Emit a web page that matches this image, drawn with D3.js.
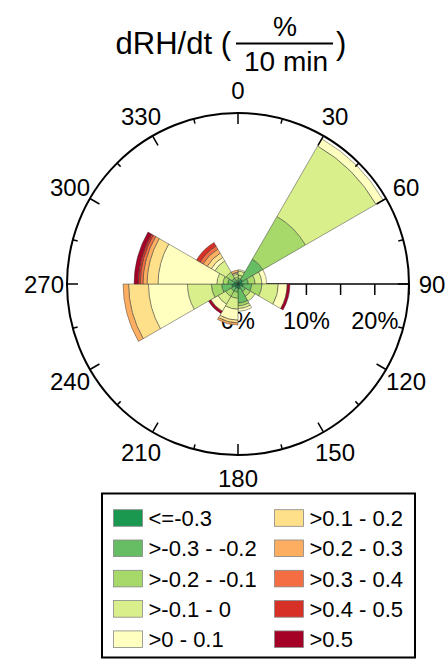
<!DOCTYPE html>
<html>
<head>
<meta charset="utf-8">
<script src="https://cdn.jsdelivr.net/npm/d3@7"></script>
<style>
  html, body { margin: 0; padding: 0; background: #fff; }
  svg { display: block; font-family: "Liberation Sans", Arial, sans-serif; }
</style>
</head>
<body>
<svg id="chart" width="448" height="659"></svg>
<script>
// Direction sectors (centre of each 30° bin, degrees clockwise from north)
const directions = [15, 45, 75, 105, 135, 165, 195, 225, 255, 285, 315, 345];

// Class labels for dRH/dt and their colours
const classLabels = ["<=-0.3", ">-0.3 - -0.2", ">-0.2 - -0.1", ">-0.1 - 0", ">0 - 0.1",
                     ">0.1 - 0.2", ">0.2 - 0.3", ">0.3 - 0.4", ">0.4 - 0.5", ">0.5"];
const classColors = ["#1a9850", "#66bd63", "#a6d96a", "#d9ef8b", "#ffffbf",
                     "#fee08b", "#fdae61", "#f46d43", "#d73027", "#a50026"];

// Frequency (%) of each class per direction sector, in the order of `directions`
const cls1  = [0.4, 0.8, 0.6, 0.8, 0.5, 0.7, 0.6, 0.6, 0.9, 0.6, 0.4, 0.3];
const cls2  = [0.4, 3.4, 0.9, 1.2, 0.8, 2.1, 0.6, 0.6, 1.5, 0.9, 0.6, 0.3];
const cls3  = [0.5, 7.2, 1.0, 1.5, 0.8, 0.4, 0.9, 0.9, 1.5, 0.7, 1.0, 0.4];
const cls4  = [0.6, 11.9, 1.0, 2.4, 0.8, 0.4, 1.6, 1.3, 3.5, 0.9, 1.9, 0.4];
const cls5  = [0.2, 1.2, 0.7, 1.3, 0.0, 0.4, 1.6, 1.2, 5.7, 8.6, 0.6, 0.2];
const cls6  = [0, 0, 0, 0, 0, 0, 0.4, 0, 2.9, 1.6, 0.7, 0.1];
const cls7  = [0, 0, 0, 0, 0, 0, 0.3, 0, 0.8, 0.6, 0.7, 0.3];
const cls8  = [0, 0, 0, 0, 0, 0, 0, 0, 0, 0.4, 0.5, 0];
const cls9  = [0, 0, 0, 0, 0, 0, 0, 0, 0, 0.3, 0.6, 0];
const cls10 = [0, 0, 0, 0.4, 0, 0, 0, 0.4, 0, 0.6, 0, 0];

// Axis ticks
const dirLabels = [0, 30, 60, 90, 120, 150, 180, 210, 240, 270, 300, 330];
const radialTicks = [0, 5, 10, 15, 20, 25];
const radialLabels = [0, 10, 20];
const radialMax = 25;

const series = [cls1, cls2, cls3, cls4, cls5, cls6, cls7, cls8, cls9, cls10];

const svg = d3.select("#chart");
const cx = 238, cy = 284, R = 171;
const toRad = d => d * Math.PI / 180;

const r = d3.scaleLinear().domain([0, radialMax]).range([0, R]);

// ---- Title: dRH/dt (% / 10 min)
const title = svg.append("g").attr("fill", "#000");
title.append("text").attr("x", 231).attr("y", 54).attr("text-anchor", "end")
  .attr("font-size", 31).text("dRH/dt (");
title.append("text").attr("x", 285).attr("y", 36).attr("text-anchor", "middle")
  .attr("font-size", 27).text("%");
title.append("line").attr("x1", 236).attr("x2", 333).attr("y1", 43.5).attr("y2", 43.5)
  .attr("stroke", "#000").attr("stroke-width", 2);
title.append("text").attr("x", 286).attr("y", 71).attr("text-anchor", "middle")
  .attr("font-size", 28).text("10 min");
title.append("text").attr("x", 336).attr("y", 54).attr("text-anchor", "start")
  .attr("font-size", 31).text(")");

const plot = svg.append("g").attr("transform", `translate(${cx},${cy})`);

// ---- Radial axis along 90°: line, ticks and percentage labels
plot.append("line").attr("x1", 0).attr("y1", 0).attr("x2", R).attr("y2", 0)
  .attr("stroke", "#000").attr("stroke-width", 1.5);
plot.selectAll(".rtick").data(radialTicks).join("line")
  .attr("x1", d => r(d)).attr("x2", d => r(d)).attr("y1", 0).attr("y2", 11)
  .attr("stroke", "#000").attr("stroke-width", 1.5);
plot.selectAll(".rlab").data(radialLabels).join("text")
  .attr("x", d => r(d)).attr("y", 45)
  .attr("text-anchor", "middle").attr("font-size", 23.5)
  .text(d => d + "%");

// ---- Stacked sectors
const arc = d3.arc();
const sectors = plot.append("g");
directions.forEach((dir, i) => {
  let inner = 0;
  series.forEach((vals, k) => {
    const v = vals[i];
    if (v <= 0) return;
    const outer = inner + v;
    sectors.append("path")
      .attr("d", arc({
        innerRadius: r(inner), outerRadius: r(outer),
        startAngle: toRad(dir - 15), endAngle: toRad(dir + 15)
      }))
      .attr("fill", classColors[k])
      .attr("stroke", "#333").attr("stroke-width", 0.7).attr("stroke-opacity", 0.65);
    inner = outer;
  });
});

// ---- Outer circle with direction ticks
plot.append("circle").attr("r", R).attr("fill", "none")
  .attr("stroke", "#000").attr("stroke-width", 2);
const tickAngles = d3.range(0, 360, 15);
plot.selectAll(".dtick").data(tickAngles).join("line")
  .attr("x1", d => Math.sin(toRad(d)) * R)
  .attr("y1", d => -Math.cos(toRad(d)) * R)
  .attr("x2", d => Math.sin(toRad(d)) * (R - (d % 30 === 0 ? 11 : 5)))
  .attr("y2", d => -Math.cos(toRad(d)) * (R - (d % 30 === 0 ? 11 : 5)))
  .attr("stroke", "#000").attr("stroke-width", 1.5);
plot.selectAll(".dlab").data(dirLabels).join("text")
  .attr("x", d => Math.sin(toRad(d)) * 194)
  .attr("y", d => -Math.cos(toRad(d)) * 194)
  .attr("dy", "0.36em")
  .attr("text-anchor", "middle").attr("font-size", 24)
  .text(d => d);

// ---- Legend
const legend = svg.append("g");
legend.append("rect").attr("x", 102).attr("y", 493.5).attr("width", 313).attr("height", 164)
  .attr("fill", "#fff").attr("stroke", "#000").attr("stroke-width", 2);
const colX = [113.5, 274.5];
classLabels.forEach((lab, k) => {
  const col = Math.floor(k / 5), row = k % 5;
  const y = 518 + row * 30.3;
  legend.append("rect").attr("x", colX[col]).attr("y", y - 8.3)
    .attr("width", 29).attr("height", 16.6)
    .attr("fill", classColors[k]).attr("stroke", "#888").attr("stroke-width", 0.8);
  legend.append("text").attr("x", colX[col] + 35).attr("y", y).attr("dy", "0.36em")
    .attr("font-size", 22).text(lab);
});
</script>
</body>
</html>
